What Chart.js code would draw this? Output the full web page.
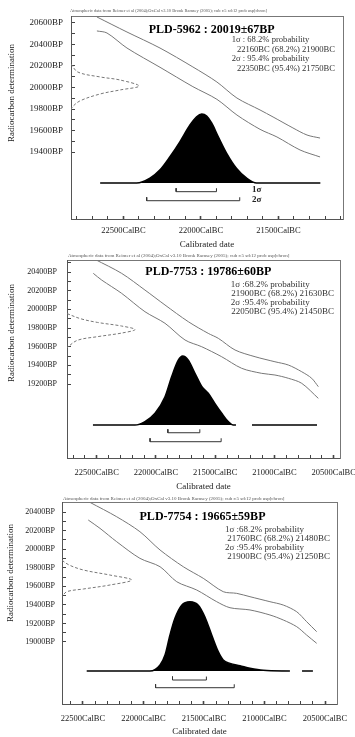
<!DOCTYPE html>
<html>
<head>
<meta charset="utf-8">
<script src="https://cdn.jsdelivr.net/npm/chart.js@4.4.0/dist/chart.umd.min.js"></script>
<style>
  html, body { margin: 0; padding: 0; background: #fff; }
  body { width: 355px; height: 737px; position: relative; overflow: hidden; }
  canvas { position: absolute; left: 0; }
</style>
</head>
<body>
<canvas id="c1" width="355" height="250" style="top:0px"></canvas>
<canvas id="c2" width="355" height="242" style="top:250px"></canvas>
<canvas id="c3" width="355" height="245" style="top:492px"></canvas>
<script>
// ---------------- DATA ----------------
const headerText = "Atmospheric data from Reimer et al (2004);OxCal v3.10 Bronk Ramsey (2005); cub r:5 sd:12 prob usp[chron]";

// Panel 1 : PLD-5962
const p1Title = "PLD-5962 : 20019\u00B167BP";
const p1Lines = ["1\u03C3 : 68.2% probability", "22160BC (68.2%) 21900BC", "2\u03C3 : 95.4% probability", "22350BC (95.4%) 21750BC"];
const p1XTicks = [22500, 22000, 21500];
const p1YTicks = [20600, 20400, 20200, 20000, 19800, 19600, 19400];
const p1UpperCal = [22671, 22477, 22264, 22052, 21897, 21768, 21619, 21535, 21407, 21316, 21232];
const p1UpperBP  = [20656, 20516, 20367, 20191, 20051, 19902, 19791, 19726, 19624, 19558, 19530];
const p1LowerCal = [22671, 22606, 22477, 22264, 22052, 21897, 21768, 21619, 21510, 21361, 21232];
const p1LowerBP  = [20526, 20507, 20367, 20188, 20008, 19890, 19744, 19611, 19540, 19419, 19354];
const p1DateBP   = [20219, 20144, 20098, 20070, 20014, 19977, 19940, 19875, 19819, 19791];
const p1DateProb = [0, 0.1, 0.43, 0.72, 1.0, 0.72, 0.43, 0.13, 0.02, 0];
const p1CalBC    = [22650, 22415, 22329, 22264, 22200, 22135, 22071, 22028, 21995, 21963, 21931, 21888, 21834, 21770, 21705, 21641, 21230];
const p1CalProb  = [0, 0, 0.07, 0.19, 0.38, 0.60, 0.84, 0.96, 1.0, 0.97, 0.87, 0.67, 0.43, 0.21, 0.07, 0, 0];
const p1Range1 = [22160, 21900];
const p1Range2 = [22350, 21750];

// Panel 2 : PLD-7753
const p2Title = "PLD-7753 : 19786\u00B160BP";
const p2Lines = ["1\u03C3 :68.2% probability", "21900BC (68.2%) 21630BC", "2\u03C3 :95.4% probability", "22050BC (95.4%) 21450BC"];
const p2XTicks = [22500, 22000, 21500, 21000, 20500];
const p2YTicks = [20400, 20200, 20000, 19800, 19600, 19400, 19200];
const p2UpperCal = [22515, 22290, 22093, 21924, 21727, 21559, 21474, 21333, 21164, 20996, 20883, 20770, 20686, 20630];
const p2UpperBP  = [20536, 20386, 20207, 20047, 19868, 19743, 19690, 19565, 19493, 19439, 19404, 19332, 19262, 19172];
const p2LowerCal = [22529, 22458, 22290, 22093, 21924, 21755, 21614, 21446, 21277, 21108, 20996, 20883, 20770, 20630];
const p2LowerBP  = [20386, 20314, 20172, 19975, 19851, 19672, 19600, 19493, 19369, 19315, 19297, 19262, 19208, 19047];
const p2DateBP   = [19955, 19900, 19860, 19822, 19784, 19746, 19708, 19668, 19590];
const p2DateProb = [0, 0.2, 0.45, 0.8, 1.0, 0.8, 0.45, 0.15, 0];
const p2CalBC    = [22532, 22177, 22093, 22008, 21924, 21868, 21812, 21775, 21727, 21671, 21614, 21559, 21502, 21445, 21390, 21348, 21325, 21260, 21190, 20641];
const p2CalProb  = [0, 0, 0.05, 0.17, 0.41, 0.70, 0.94, 1.0, 0.94, 0.75, 0.56, 0.46, 0.31, 0.17, 0.05, 0, 0, null, 0, 0];
const p2Range1 = [21900, 21630];
const p2Range2 = [22050, 21450];

// Panel 3 : PLD-7754
const p3Title = "PLD-7754 : 19665\u00B159BP";
const p3Lines = ["1\u03C3 :68.2% probability", "21760BC (68.2%) 21480BC", "2\u03C3 :95.4% probability", "21900BC (95.4%) 21250BC"];
const p3XTicks = [22500, 22000, 21500, 21000, 20500];
const p3YTicks = [20400, 20200, 20000, 19800, 19600, 19400, 19200, 19000];
const p3UpperCal = [22442, 22221, 22029, 21863, 21671, 21506, 21341, 21230, 21120, 20955, 20845, 20734, 20652, 20569];
const p3UpperBP  = [20504, 20349, 20188, 19991, 19811, 19686, 19542, 19524, 19488, 19434, 19398, 19326, 19219, 19111];
const p3LowerCal = [22456, 22359, 22221, 22029, 21863, 21725, 21560, 21395, 21285, 21120, 20955, 20845, 20734, 20652, 20569];
const p3LowerBP  = [20314, 20224, 20080, 19901, 19811, 19649, 19560, 19434, 19369, 19345, 19291, 19237, 19165, 19075, 18986];
const p3DateBP   = [19880, 19830, 19775, 19721, 19668, 19614, 19571, 19542, 19490];
const p3DateProb = [0, 0.1, 0.31, 0.69, 1.0, 0.69, 0.31, 0.07, 0];
const p3CalBC    = [22469, 21946, 21863, 21822, 21781, 21740, 21684, 21616, 21547, 21492, 21436, 21382, 21341, 21285, 21203, 21120, 21010, 20790, 20740, 20690, 20600];
const p3CalProb  = [0, 0, 0.087, 0.23, 0.52, 0.76, 0.95, 1.0, 0.95, 0.78, 0.52, 0.28, 0.16, 0.11, 0.077, 0.04, 0.01, 0, null, 0, 0];
const p3Range1 = [21760, 21480];
const p3Range2 = [21900, 21250];

// ---------------- RENDERING ----------------
const FONT = '"Liberation Serif", "Times New Roman", serif';

function pts(xs, ys) { return xs.map((x, i) => ({ x: x, y: ys[i] })); }
function bracket(range, level, hook) {
  return [{ x: range[0], y: level + hook }, { x: range[0], y: level },
          { x: range[1], y: level }, { x: range[1], y: level + hook }];
}
// tick marks every 100 years / 100 BP between two limits (labels come from the tick arrays)
function hundreds(lo, hi) {
  const t = [];
  for (let v = Math.ceil(lo / 100) * 100; v <= hi; v += 100) t.push({ value: v });
  return t;
}

const textPlugin = {
  id: 'panelText',
  afterDraw(chart) {
    const o = chart.config._config.panel;
    const ctx = chart.ctx;
    ctx.save();
    ctx.textBaseline = 'middle';
    ctx.fillStyle = '#555';
    ctx.font = '5px ' + FONT;
    ctx.textAlign = 'left';
    ctx.fillText(headerText, o.headerX, o.headerY, o.headerW);
    ctx.fillStyle = '#000';
    ctx.font = 'bold ' + o.titleSize + 'px ' + FONT;
    ctx.textAlign = 'center';
    ctx.fillText(o.title, o.titleX, o.titleY);
    ctx.fillStyle = '#333';
    ctx.font = o.lineSize + 'px ' + FONT;
    o.lines.forEach((t, i) => {
      const p = o.linePos[i];
      ctx.textAlign = p[2];
      ctx.fillText(t, p[0], p[1]);
    });
    if (o.sigma) {
      ctx.fillStyle = '#222';
      ctx.font = 'bold 9px ' + FONT;
      ctx.textAlign = 'left';
      ctx.fillText('1\u03C3', o.sigma[0], o.sigma[1]);
      ctx.fillText('2\u03C3', o.sigma[0], o.sigma[2]);
    }
    ctx.translate(o.yTitleX, o.yTitleY);
    ctx.rotate(-Math.PI / 2);
    ctx.textAlign = 'center';
    ctx.fillStyle = '#222';
    ctx.font = '9px ' + FONT;
    ctx.fillText('Radiocarbon determination', 0, 0);
    ctx.restore();
  }
};

function build(id, P) {
  const f = P.frame;
  const W = 355, H = P.H;
  const yLow = Math.min.apply(null, P.yTicks);
  const datasets = [
    { data: pts(P.upper[0], P.upper[1]), xAxisID: 'x', yAxisID: 'y', borderColor: '#777', borderWidth: 1, pointRadius: 0, tension: 0.3, fill: false },
    { data: pts(P.lower[0], P.lower[1]), xAxisID: 'x', yAxisID: 'y', borderColor: '#777', borderWidth: 1, pointRadius: 0, tension: 0.3, fill: false },
    { data: pts(P.date[1], P.date[0]), xAxisID: 'xg', yAxisID: 'y', borderColor: '#777', borderWidth: 1, borderDash: [3, 2], pointRadius: 0, tension: 0.35, fill: false },
    { data: pts(P.cal[0], P.cal[1]), xAxisID: 'x', yAxisID: 'yp', borderColor: '#000', backgroundColor: '#000', borderWidth: 1.5, pointRadius: 0, cubicInterpolationMode: 'monotone', spanGaps: false, fill: 'origin' },
    { data: bracket(P.r1, P.levels[0], P.hook), xAxisID: 'x', yAxisID: 'yp', borderColor: '#333', borderWidth: 1, pointRadius: 0, tension: 0, fill: false },
    { data: bracket(P.r2, P.levels[1], P.hook), xAxisID: 'x', yAxisID: 'yp', borderColor: '#333', borderWidth: 1, pointRadius: 0, tension: 0, fill: false }
  ];
  const cfg = {
    type: 'line',
    data: { datasets: datasets },
    panel: P.text,
    options: {
      responsive: false, devicePixelRatio: 1, animation: false, events: [],
      layout: { padding: { top: f.top, right: W - f.right, left: 0, bottom: 0 } },
      plugins: { legend: { display: false }, tooltip: { enabled: false }, title: { display: false } },
      scales: {
        x: {
          type: 'linear', axis: 'x', position: 'bottom', min: P.cal0, max: P.cal1, reverse: true,
          afterBuildTicks: s => { s.ticks = hundreds(P.cal0, P.cal1); },
          ticks: {
            autoSkip: false, maxRotation: 0, minRotation: 0,
            padding: P.xTickPad, color: '#222', font: { family: FONT, size: 8.5 },
            callback: v => (P.xTicks.indexOf(v) >= 0 ? v + 'CalBC' : '')
          },
          grid: { drawOnChartArea: false, drawTicks: true, tickLength: -3, tickColor: '#444',
                  tickWidth: c => (c.tick && c.tick.value % 500 === 0 ? 1.6 : 1) },
          border: { display: true, color: '#555', width: 1 },
          title: { display: true, text: 'Calibrated date', color: '#222', font: { family: FONT, size: 9 }, padding: { top: 0, bottom: 0 } },
          afterFit: s => { s.height = H - f.bottom; s.paddingLeft = 0; s.paddingRight = 0; }
        },
        xt: {
          type: 'linear', axis: 'x', position: 'top', min: P.cal0, max: P.cal1, reverse: true,
          ticks: { display: false }, grid: { display: false, drawTicks: false },
          border: { display: true, color: '#777', width: 1 },
          afterFit: s => { s.height = 0; s.paddingLeft = 0; s.paddingRight = 0; }
        },
        y: {
          type: 'linear', axis: 'y', position: 'left', min: P.bp0, max: P.bp1,
          afterBuildTicks: s => { s.ticks = hundreds(yLow, P.bp1); },
          ticks: {
            autoSkip: false, padding: P.yTickPad, color: '#222',
            font: { family: FONT, size: P.yTickSize },
            callback: v => (P.yTicks.indexOf(v) >= 0 ? v + 'BP' : '')
          },
          grid: { drawOnChartArea: false, drawTicks: true, tickLength: -4, tickColor: '#444' },
          border: { display: true, color: '#555', width: 1 },
          afterFit: s => { s.width = f.left; s.paddingTop = 0; s.paddingBottom = 0; }
        },
        yr: {
          type: 'linear', axis: 'y', position: 'right', min: P.bp0, max: P.bp1,
          ticks: { display: false }, grid: { display: false, drawTicks: false },
          border: { display: true, color: '#777', width: 1 },
          afterFit: s => { s.width = 0; s.paddingTop = 0; s.paddingBottom = 0; }
        },
        xg: { type: 'linear', axis: 'x', position: 'bottom', display: false, min: 0, max: P.gaussMax },
        yp: { type: 'linear', axis: 'y', position: 'left', display: false, min: P.p0, max: P.p1 }
      }
    },
    plugins: [textPlugin]
  };
  return new Chart(document.getElementById(id), cfg);
}

build('c1', {
  H: 250, frame: { left: 71, right: 343, top: 16, bottom: 219 },
  cal0: 21084, cal1: 22838, bp0: 18777, bp1: 20665, xTicks: p1XTicks, yTicks: p1YTicks,
  p0: -0.522, p1: 2.42, gaussMax: 4.0, levels: [-0.126, -0.257], hook: 0.05,
  xTickPad: 9.6, yTickPad: 12, yTickSize: 9,
  upper: [p1UpperCal, p1UpperBP], lower: [p1LowerCal, p1LowerBP], date: [p1DateBP, p1DateProb],
  cal: [p1CalBC, p1CalProb], r1: p1Range1, r2: p1Range2,
  text: {
    headerX: 70, headerY: 10.7, headerW: 197,
    title: p1Title, titleSize: 12, titleX: 211.7, titleY: 30,
    lines: p1Lines, lineSize: 8.6,
    linePos: [[231.7, 40, 'left'], [335, 49.3, 'right'], [231.7, 58.3, 'left'], [335, 68.3, 'right']],
    sigma: [252, 190, 200],
    yTitleX: 12, yTitleY: 93
  }
});

build('c2', {
  H: 242, frame: { left: 67, right: 340, top: 10, bottom: 208 },
  cal0: 20447, cal1: 22751, bp0: 18408, bp1: 20529, xTicks: p2XTicks, yTicks: p2YTicks,
  p0: -0.478, p1: 2.391, gaussMax: 4.01, levels: [-0.112, -0.242], hook: 0.05,
  xTickPad: 12.6, yTickPad: 14, yTickSize: 8,
  upper: [p2UpperCal, p2UpperBP], lower: [p2LowerCal, p2LowerBP], date: [p2DateBP, p2DateProb],
  cal: [p2CalBC, p2CalProb], r1: p2Range1, r2: p2Range2,
  text: {
    headerX: 68, headerY: 5.7, headerW: 234,
    title: p2Title, titleSize: 12, titleX: 208.3, titleY: 21.7,
    lines: p2Lines, lineSize: 9,
    linePos: [[230.7, 35, 'left'], [334, 43.3, 'right'], [230.7, 52.7, 'left'], [334, 61.7, 'right']],
    sigma: null,
    yTitleX: 12, yTitleY: 83
  }
});

build('c3', {
  H: 245, frame: { left: 62, right: 337, top: 10, bottom: 212 },
  cal0: 20401, cal1: 22673, bp0: 18332, bp1: 20508, xTicks: p3XTicks, yTicks: p3YTicks,
  p0: -0.476, p1: 2.439, gaussMax: 3.95, levels: [-0.130, -0.241], hook: 0.05,
  xTickPad: 12.6, yTickPad: 11, yTickSize: 8,
  upper: [p3UpperCal, p3UpperBP], lower: [p3LowerCal, p3LowerBP], date: [p3DateBP, p3DateProb],
  cal: [p3CalBC, p3CalProb], r1: p3Range1, r2: p3Range2,
  text: {
    headerX: 63, headerY: 7, headerW: 235,
    title: p3Title, titleSize: 12, titleX: 202.5, titleY: 24.7,
    lines: p3Lines, lineSize: 9,
    linePos: [[225, 37.3, 'left'], [330, 46.3, 'right'], [225, 55.3, 'left'], [330, 64.7, 'right']],
    sigma: null,
    yTitleX: 11, yTitleY: 81
  }
});
</script>
</body>
</html>
